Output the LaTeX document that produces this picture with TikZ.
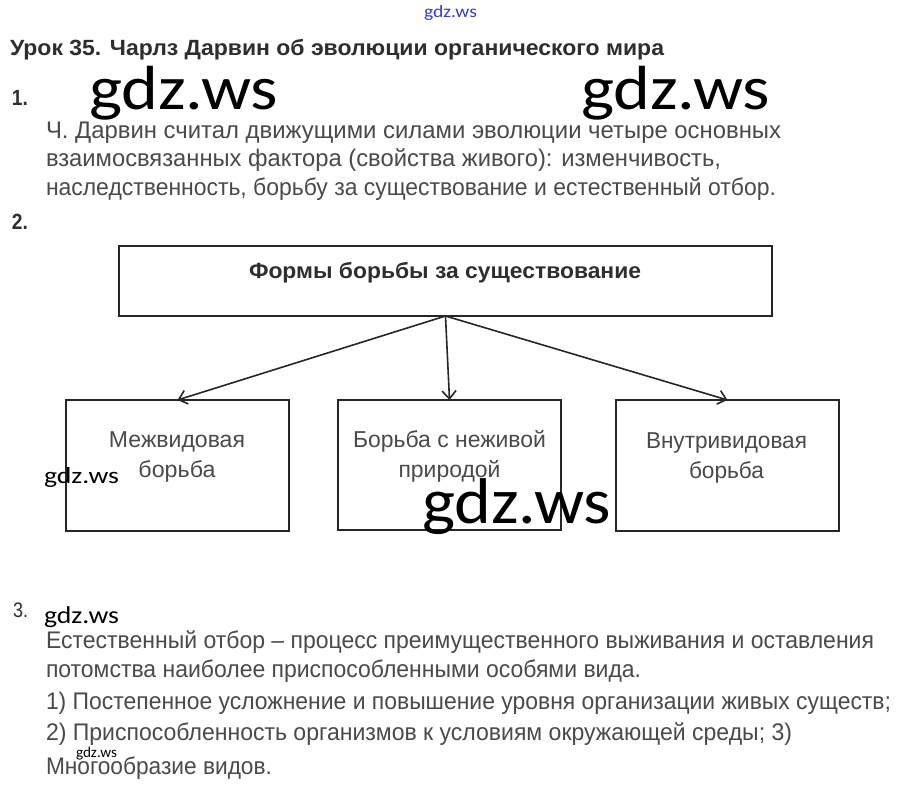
\documentclass[tikz,border=0pt]{standalone}
\usepackage{fontspec}
\setmainfont{Liberation Sans}
\newfontfamily\wmfont{Carlito}
\usetikzlibrary{arrows.meta}
\definecolor{txt}{HTML}{4A4A4A}
\definecolor{ttl}{HTML}{2E2E2E}
\definecolor{wmblue}{HTML}{3A3AD0}
\definecolor{boxline}{HTML}{262626}
\newcommand{\fitw}[2]{\resizebox{#1}{\height}{#2}}
\newcommand{\fitwh}[3]{\resizebox*{#1}{#2}{#3}}
\begin{document}
\begin{tikzpicture}[x=1pt,y=1pt,
  every node/.style={inner sep=0pt, outer sep=0pt},
  ln/.style={anchor=base west, text=txt, font=\fontsize{24}{28}\selectfont},
  tl/.style={anchor=base west, text=ttl, font=\bfseries\fontsize{22}{26}\selectfont},
  num/.style={anchor=base west, text=ttl, font=\bfseries\fontsize{22}{26}\selectfont},
  bx/.style={draw=boxline, line width=2pt, minimum width=223pt},
  bt/.style={anchor=base, text=txt, font=\fontsize{23}{27}\selectfont},
  wm/.style={anchor=north west, text=black, font=\wmfont},
  arr/.style={draw=boxline, line width=1.6pt, -{Straight Barb[length=8pt,width=14pt]}}]
\fill[white] (0,0) rectangle (900,-800);
\useasboundingbox (0,0) rectangle (900,-800);

% header
\node[wm, text=wmblue] (wm0) at (424,-5) {\fitwh{53pt}{15pt}{gdz.ws}};
\node[tl] (title) at (10,-56) {\fitw{654pt}{Урок 35. Чарлз Дарвин об эволюции органического мира}};

% section 1
\node[num] (n1) at (12,-105) {\fitw{16pt}{1.}};
\node[wm] (wm1) at (89,-66) {\fitwh{189pt}{54pt}{gdz.ws}};
\node[wm] (wm2) at (581,-66) {\fitwh{189pt}{54pt}{gdz.ws}};
\node[ln] (p1a) at (46,-138) {\fitw{735pt}{Ч. Дарвин считал движущими силами эволюции четыре основных}};
\node[ln] (p1b) at (46,-166) {\fitw{675pt}{взаимосвязанных фактора (свойства живого): изменчивость,}};
\node[ln] (p1c) at (46,-195) {\fitw{730pt}{наследственность, борьбу за существование и естественный отбор.}};

% section 2
\node[num] (n2) at (12,-229) {\fitw{16pt}{2.}};
\node[bx, minimum width=653pt, minimum height=70pt] (top) at (445.5,-281) {};
\node[anchor=base west, text=ttl, font=\bfseries\fontsize{22}{26}\selectfont] (toptxt) at (249,-278) {\fitw{392pt}{Формы борьбы за существование}};

\node[bx, minimum height=131pt] (lb) at (177.5,-465.5) {};
\node[bx, minimum height=130pt] (mb) at (449.5,-465) {};
\node[bx, minimum height=131pt] (rb) at (727.5,-465.5) {};

\draw[arr] (top.south) -- (lb.north);
\draw[arr] (top.south) -- (mb.north);
\draw[arr] (top.south) -- (rb.north);

\node[bt] (l1) at (177,-447) {\fitw{136pt}{Межвидовая}};
\node[bt] (l2) at (177,-477) {\fitw{77pt}{борьба}};
\node[bt] (m1) at (449.5,-447) {\fitw{193pt}{Борьба с неживой}};
\node[bt] (m2) at (449.5,-477) {\fitw{102pt}{природой}};
\node[bt] (r1) at (726.5,-448) {\fitw{161pt}{Внутривидовая}};
\node[bt] (r2) at (726.5,-478) {\fitw{75pt}{борьба}};

\node[wm] (wm3) at (44,-467) {\fitwh{75pt}{20pt}{gdz.ws}};
\node[wm] (wm4) at (422,-479) {\fitwh{189pt}{56pt}{gdz.ws}};

% section 3
\node[anchor=base west, text=ttl, font=\fontsize{21}{25}\selectfont] (n3) at (13,-617) {\fitw{15pt}{3.}};
\node[wm] (wm5) at (44,-607) {\fitwh{75pt}{21pt}{gdz.ws}};
\node[ln] (p3a) at (46,-648) {\fitw{828pt}{Естественный отбор – процесс преимущественного выживания и оставления}};
\node[ln] (p3b) at (46,-677) {\fitw{595pt}{потомства наиболее приспособленными особями вида.}};
\node[ln] (p3c) at (46,-709) {\fitw{845pt}{1) Постепенное усложнение и повышение уровня организации живых существ;}};
\node[ln] (p3d) at (46,-740) {\fitw{746pt}{2) Приспособленность организмов к условиям окружающей среды; 3)}};
\node[wm] (wm6) at (76,-747) {\fitwh{41pt}{13pt}{gdz.ws}};
\node[ln] (p3e) at (46,-774) {\fitw{226pt}{Многообразие видов.}};
\end{tikzpicture}
\end{document}
